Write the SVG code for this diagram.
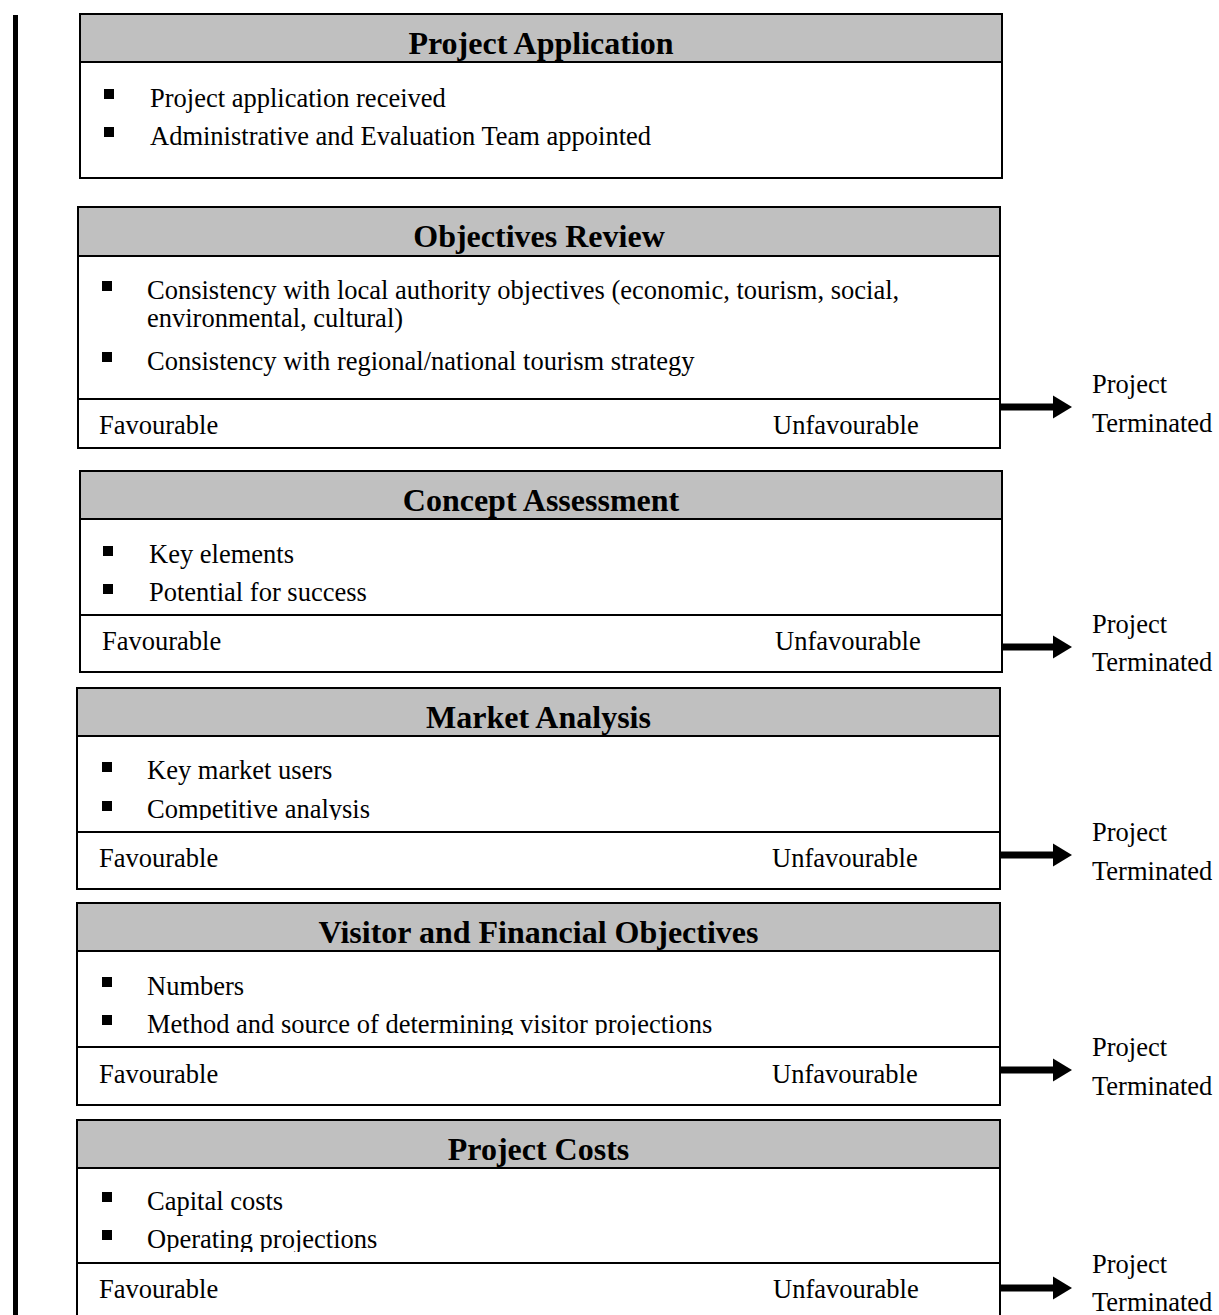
<svg xmlns="http://www.w3.org/2000/svg" width="1219" height="1315" viewBox="0 0 1219 1315">
<style>
.box{fill:#fff;stroke:#000;stroke-width:2}
.hdr{fill:#c0c0c0;stroke:#000;stroke-width:2}
.div{stroke:#000;stroke-width:2}
.title{font-family:"Liberation Serif","Times New Roman",serif;font-weight:bold;font-size:32px;text-anchor:middle;fill:#000}
.t{font-family:"Liberation Serif","Times New Roman",serif;font-size:26.5px;fill:#000}
.bul{fill:#000}
.shaft{stroke:#000;stroke-width:7}
</style>
<defs>
<clipPath id="c4"><rect x="77" y="736" width="923" height="84"/></clipPath>
<clipPath id="c5"><rect x="77" y="951" width="923" height="84"/></clipPath>
<clipPath id="c6"><rect x="77" y="1168" width="923" height="84"/></clipPath>
</defs>

<g id="connectors">
<rect id="flow-bar" x="13" y="15" width="5" height="1300" fill="#000"/>
<g id="arrow-2"><line class="shaft" x1="1000" y1="407" x2="1054" y2="407"/><polygon points="1053,395.5 1072,407 1053,418.5"/></g>
<g id="arrow-3"><line class="shaft" x1="1002" y1="647" x2="1054" y2="647"/><polygon points="1053,635.5 1072,647 1053,658.5"/></g>
<g id="arrow-4"><line class="shaft" x1="1000" y1="855" x2="1054" y2="855"/><polygon points="1053,843.5 1072,855 1053,866.5"/></g>
<g id="arrow-5"><line class="shaft" x1="1000" y1="1070" x2="1054" y2="1070"/><polygon points="1053,1058.5 1072,1070 1053,1081.5"/></g>
<g id="arrow-6"><line class="shaft" x1="1000" y1="1288" x2="1054" y2="1288"/><polygon points="1053,1276.5 1072,1288 1053,1299.5"/></g>
</g>

<g id="project-application">
<rect class="box" x="80" y="14" width="922" height="164"/>
<rect class="hdr" x="80" y="14" width="922" height="48"/>
<text class="title" x="541" y="54">Project Application</text>
<rect class="bul" x="104" y="89" width="10" height="10"/>
<text class="t" x="150" y="107">Project application received</text>
<rect class="bul" x="104" y="127" width="10" height="10"/>
<text class="t" x="150" y="145">Administrative and Evaluation Team appointed</text>
</g>

<g id="objectives-review">
<rect class="box" x="78" y="207" width="922" height="241"/>
<rect class="hdr" x="78" y="207" width="922" height="49"/>
<line class="div" x1="78" y1="399" x2="1000" y2="399"/>
<text class="title" x="539" y="247">Objectives Review</text>
<rect class="bul" x="102" y="281" width="10" height="10"/>
<text class="t" x="147" y="299">Consistency with local authority objectives (economic, tourism, social,</text>
<text class="t" x="147" y="327">environmental, cultural)</text>
<rect class="bul" x="102" y="352" width="10" height="10"/>
<text class="t" x="147" y="370">Consistency with regional/national tourism strategy</text>
<text class="t" x="99" y="434">Favourable</text>
<text class="t" x="773" y="434">Unfavourable</text>
</g>

<g id="concept-assessment">
<rect class="box" x="80" y="471" width="922" height="201"/>
<rect class="hdr" x="80" y="471" width="922" height="48"/>
<line class="div" x1="80" y1="615" x2="1002" y2="615"/>
<text class="title" x="541" y="511">Concept Assessment</text>
<rect class="bul" x="103" y="546" width="10" height="10"/>
<text class="t" x="149" y="563">Key elements</text>
<rect class="bul" x="103" y="584" width="10" height="10"/>
<text class="t" x="149" y="601">Potential for success</text>
<text class="t" x="102" y="650">Favourable</text>
<text class="t" x="775" y="650">Unfavourable</text>
</g>

<g id="market-analysis">
<rect class="box" x="77" y="688" width="923" height="201"/>
<rect class="hdr" x="77" y="688" width="923" height="48"/>
<line class="div" x1="77" y1="832" x2="1000" y2="832"/>
<text class="title" x="538.5" y="728">Market Analysis</text>
<rect class="bul" x="102" y="762" width="10" height="10"/>
<text class="t" x="147" y="779">Key market users</text>
<rect class="bul" x="102" y="801" width="10" height="10"/>
<text class="t" x="147" y="818" clip-path="url(#c4)">Competitive analysis</text>
<text class="t" x="99" y="867">Favourable</text>
<text class="t" x="772" y="867">Unfavourable</text>
</g>

<g id="visitor-financial-objectives">
<rect class="box" x="77" y="903" width="923" height="202"/>
<rect class="hdr" x="77" y="903" width="923" height="48"/>
<line class="div" x1="77" y1="1047" x2="1000" y2="1047"/>
<text class="title" x="538.5" y="943">Visitor and Financial Objectives</text>
<rect class="bul" x="102" y="977" width="10" height="10"/>
<text class="t" x="147" y="995">Numbers</text>
<rect class="bul" x="102" y="1015" width="10" height="10"/>
<text class="t" x="147" y="1033" clip-path="url(#c5)">Method and source of determining visitor projections</text>
<text class="t" x="99" y="1083">Favourable</text>
<text class="t" x="772" y="1083">Unfavourable</text>
</g>

<g id="project-costs">
<rect class="box" x="77" y="1120" width="923" height="210"/>
<rect class="hdr" x="77" y="1120" width="923" height="48"/>
<line class="div" x1="77" y1="1263" x2="1000" y2="1263"/>
<text class="title" x="538.5" y="1160">Project Costs</text>
<rect class="bul" x="102" y="1192" width="10" height="10"/>
<text class="t" x="147" y="1210">Capital costs</text>
<rect class="bul" x="102" y="1230" width="10" height="10"/>
<text class="t" x="147" y="1248" clip-path="url(#c6)">Operating projections</text>
<text class="t" x="99" y="1298">Favourable</text>
<text class="t" x="773" y="1298">Unfavourable</text>
</g>

<g id="terminated-2"><text class="t" x="1092" y="393">Project</text><text class="t" x="1092" y="432">Terminated</text></g>
<g id="terminated-3"><text class="t" x="1092" y="633">Project</text><text class="t" x="1092" y="671">Terminated</text></g>
<g id="terminated-4"><text class="t" x="1092" y="841">Project</text><text class="t" x="1092" y="880">Terminated</text></g>
<g id="terminated-5"><text class="t" x="1092" y="1056">Project</text><text class="t" x="1092" y="1095">Terminated</text></g>
<g id="terminated-6"><text class="t" x="1092" y="1273">Project</text><text class="t" x="1092" y="1311">Terminated</text></g>
</svg>
